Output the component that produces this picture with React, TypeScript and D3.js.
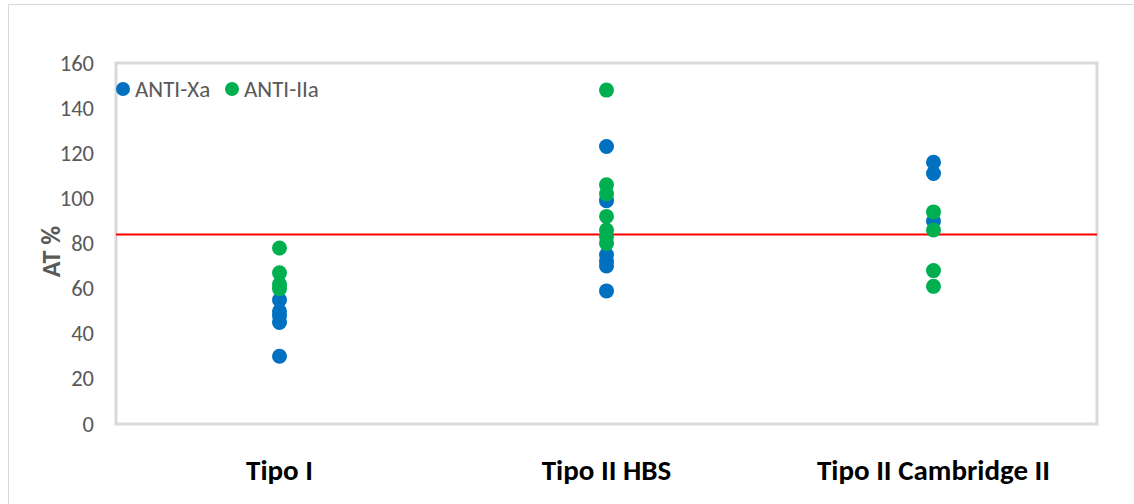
import React from "react";
import * as d3 from "d3";

// Categories on the x axis
const categories = ["Tipo I", "Tipo II HBS", "Tipo II Cambridge II"];

// AT % readings per category, by assay
const antiXa: [string, number][] = [
  ["Tipo I", 55], ["Tipo I", 50], ["Tipo I", 48], ["Tipo I", 45], ["Tipo I", 30],
  ["Tipo II HBS", 123], ["Tipo II HBS", 99], ["Tipo II HBS", 75], ["Tipo II HBS", 72],
  ["Tipo II HBS", 70], ["Tipo II HBS", 59],
  ["Tipo II Cambridge II", 116], ["Tipo II Cambridge II", 111], ["Tipo II Cambridge II", 90],
];

const antiIIa: [string, number][] = [
  ["Tipo I", 78], ["Tipo I", 67], ["Tipo I", 62], ["Tipo I", 60],
  ["Tipo II HBS", 148], ["Tipo II HBS", 106], ["Tipo II HBS", 102], ["Tipo II HBS", 92],
  ["Tipo II HBS", 86], ["Tipo II HBS", 83], ["Tipo II HBS", 80],
  ["Tipo II Cambridge II", 94], ["Tipo II Cambridge II", 86], ["Tipo II Cambridge II", 68],
  ["Tipo II Cambridge II", 61],
];

const yTicks = [0, 20, 40, 60, 80, 100, 120, 140, 160];
const referenceLine = 84;

const series = [
  { name: "ANTI-Xa", color: "#0070C0", data: antiXa },
  { name: "ANTI-IIa", color: "#00B050", data: antiIIa },
];

const W = 1134;
const H = 504;
const plot = { left: 116, right: 1097, top: 63, bottom: 424 };
const FONT = "Carlito, 'Open Sans', sans-serif";

export default function App() {
  const x = d3
    .scaleBand<string>()
    .domain(categories)
    .range([plot.left, plot.right])
    .padding(0);
  const y = d3.scaleLinear().domain([0, 160]).range([plot.bottom, plot.top]);
  const cx = (c: string) => (x(c) ?? 0) + x.bandwidth() / 2;

  return (
    <svg
      width={W}
      height={H}
      style={{ position: "absolute", left: 0, top: 0, background: "#fff" }}
    >
      {/* chart frame */}
      <rect x={8.5} y={4.5} width={W} height={H} fill="none" stroke="#d9d9d9" strokeWidth={1} />

      {/* plot area */}
      <rect
        x={plot.left}
        y={plot.top}
        width={plot.right - plot.left}
        height={plot.bottom - plot.top}
        fill="none"
        stroke="#d9d9d9"
        strokeWidth={3}
      />

      {/* y tick labels */}
      {yTicks.map((t) => (
        <text
          key={t}
          x={94}
          y={y(t)}
          textAnchor="end"
          dominantBaseline="central"
          fontFamily={FONT}
          fontSize={22.5}
          fill="#595959"
        >
          {t}
        </text>
      ))}

      {/* y axis title */}
      <text
        transform={`translate(51,${(plot.top + plot.bottom) / 2 + 8}) rotate(-90)`}
        textAnchor="middle"
        dominantBaseline="central"
        fontFamily={FONT}
        fontSize={26}
        fontWeight="bold"
        fill="#595959"
      >
        AT %
      </text>

      {/* x category labels */}
      {categories.map((c) => (
        <text
          key={c}
          x={cx(c)}
          y={480}
          textAnchor="middle"
          fontFamily={FONT}
          fontSize={29}
          fontWeight="bold"
          fill="#000"
        >
          {c}
        </text>
      ))}

      {/* reference line */}
      <line
        x1={plot.left}
        x2={plot.right}
        y1={y(referenceLine)}
        y2={y(referenceLine)}
        stroke="#ff0000"
        strokeWidth={2}
      />

      {/* points */}
      {series.map((s) => (
        <g key={s.name}>
          {s.data.map(([c, v], i) => (
            <circle key={i} cx={cx(c)} cy={y(v)} r={7.5} fill={s.color} />
          ))}
        </g>
      ))}

      {/* legend */}
      <g fontFamily={FONT} fontSize={23} fill="#595959">
        <circle cx={123} cy={89} r={7} fill={series[0].color} />
        <text x={135} y={89} dominantBaseline="central">
          {series[0].name}
        </text>
        <circle cx={232} cy={89} r={7} fill={series[1].color} />
        <text x={244} y={89} dominantBaseline="central">
          {series[1].name}
        </text>
      </g>
    </svg>
  );
}
